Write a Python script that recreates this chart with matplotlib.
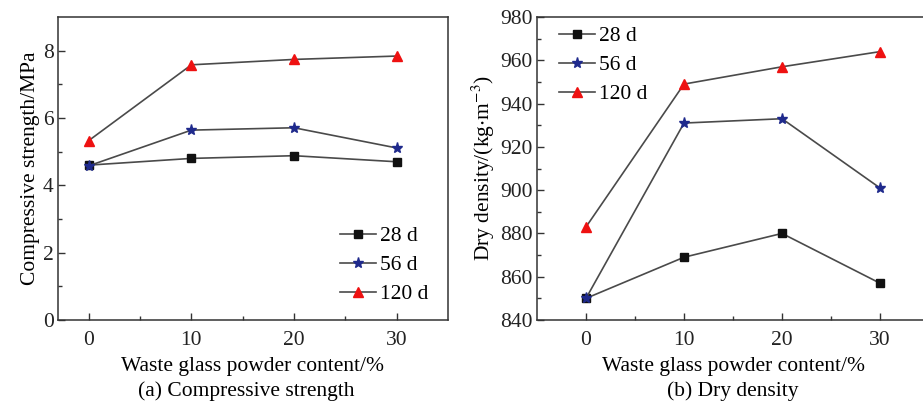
import numpy as np
import matplotlib.pyplot as plt

plt.rcParams['font.family'] = ['Liberation Serif', 'DejaVu Serif']
plt.rcParams['mathtext.fontset'] = 'stix'

content = [0, 10, 20, 30]
series = ['28 d', '56 d', '120 d']

strength_28 = [4.60, 4.80, 4.88, 4.70]
strength_56 = [4.58, 5.64, 5.71, 5.11]
strength_120 = [5.33, 7.58, 7.74, 7.84]

density_28 = [850, 869, 880, 857]
density_56 = [850, 931, 933, 901]
density_120 = [883, 949, 957, 964]

markers = ['s', '*', '^']
mcolors = ['#111111', '#1f2a8c', '#ee1111']
msizes = [6, 8, 7]
line_col = '#4a4a4a'
fs = 15.5

fig = plt.figure(figsize=(9.23, 4.03), dpi=100)
ax1 = fig.add_axes([58/923, 1-320/403, 390/923, 303/403])
ax2 = fig.add_axes([537/923, 1-320/403, 392/923, 303/403])


def style(ax):
    for s in ax.spines.values():
        s.set_color('#333333')
        s.set_linewidth(1.1)
    ax.tick_params(which='both', direction='in', colors='#333333', labelsize=fs,
                   labelcolor='#222222', width=1.0)
    ax.tick_params(which='major', length=5)
    ax.tick_params(which='minor', length=3)
    ax.tick_params(axis='x', pad=8)
    ax.tick_params(axis='y', pad=3)


def add_legend(ax, x, y):
    ax.legend(loc='upper left', bbox_to_anchor=(x, y), bbox_transform=fig.transFigure,
              frameon=False, fontsize=fs, handlelength=1.65, handletextpad=0.2,
              labelspacing=0.42, borderpad=0, borderaxespad=0)


for ys, m, c, ms, lab in zip([strength_28, strength_56, strength_120], markers, mcolors, msizes, series):
    ax1.plot(content, ys, color=line_col, lw=1.2, marker=m, ms=ms, mfc=c, mec=c, label=lab)
ax1.set_xlim(-3, 35)
ax1.set_ylim(0, 9)
ax1.set_xticks([0, 10, 20, 30])
ax1.set_xticks([5, 15, 25], minor=True)
ax1.set_yticks([0, 2, 4, 6, 8])
ax1.set_yticks([1, 3, 5, 7], minor=True)
style(ax1)
ax1.set_ylabel('Compressive strength/MPa', fontsize=fs, labelpad=2)
ax1.set_xlabel('Waste glass powder content/%', fontsize=fs, labelpad=5)
add_legend(ax1, 340/923, 1-226/403)
fig.text(246/923, 1-391/403, '(a) Compressive strength', ha='center', va='center', fontsize=fs)

for ys, m, c, ms, lab in zip([density_28, density_56, density_120], markers, mcolors, msizes, series):
    ax2.plot(content, ys, color=line_col, lw=1.2, marker=m, ms=ms, mfc=c, mec=c, label=lab)
ax2.set_xlim(-5, 35)
ax2.set_ylim(840, 980)
ax2.set_xticks([0, 10, 20, 30])
ax2.set_xticks([5, 15, 25], minor=True)
ax2.set_yticks(np.arange(840, 981, 20))
ax2.set_yticks(np.arange(850, 980, 20), minor=True)
style(ax2)
ax2.set_ylabel('Dry density/(kg$\\cdot$m$^{-3}$)', fontsize=fs, labelpad=2)
ax2.set_xlabel('Waste glass powder content/%', fontsize=fs, labelpad=5)
add_legend(ax2, 559/923, 1-26/403)
fig.text(733/923, 1-391/403, '(b) Dry density', ha='center', va='center', fontsize=fs)

fig.savefig('out.png', dpi=100)
